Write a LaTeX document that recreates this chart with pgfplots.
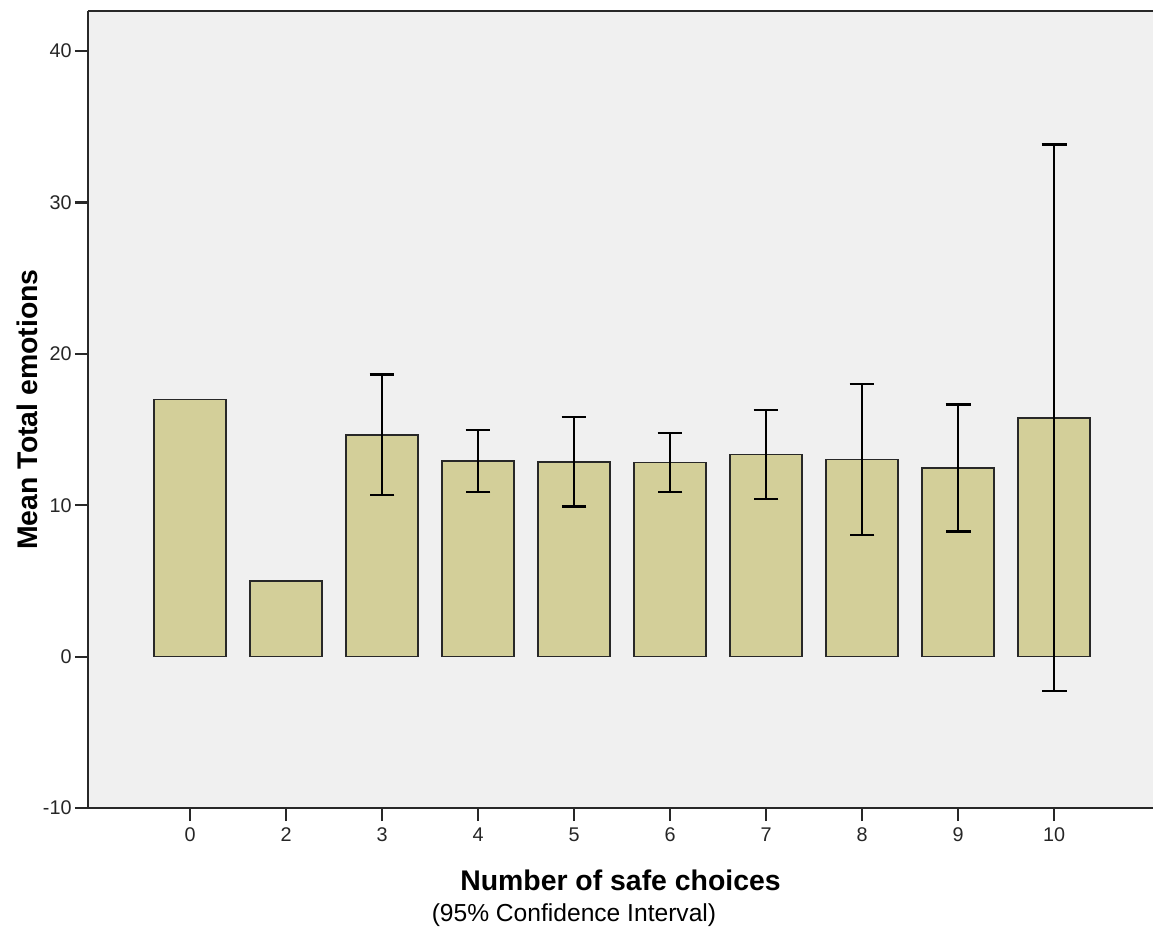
\documentclass[border=0pt]{standalone}
\usepackage{fontspec}
\setmainfont{Liberation Sans}
\usepackage{pgfplots}
\pgfplotsset{compat=1.18}
\definecolor{barfill}{RGB}{211,207,153}
\definecolor{plotbg}{RGB}{240,240,240}
\definecolor{edge}{RGB}{40,40,40}

\begin{document}
\begin{tikzpicture}
\begin{axis}[
    name=main,
    scale only axis,
    width=532.5pt, height=398.5pt,
    xmin=-1.0625, xmax=10.03,
    ymin=-10, ymax=42.65,
    axis x line*=box, axis y line*=left,
    axis line style={edge, line width=1.25pt},
    axis background/.style={fill=plotbg},
    clip=false,
    tick align=outside,
    major tick length=6.5pt,
    tick style={edge, line width=1.1pt},
    xtick pos=bottom, ytick pos=left,
    xtick={0,...,9},
    xticklabels={0,2,3,4,5,6,7,8,9,10},
    ytick={-10,0,10,20,30,40},
    /pgf/number format/assume math mode=true,
    ticklabel style={font=\fontsize{9.9}{12}\selectfont, text=black!85},
    yticklabel style={inner xsep=1.5pt},
    xlabel={Number of safe choices},
    ylabel={Mean Total emotions},
    xlabel style={font=\fontsize{14.2}{17}\selectfont\bfseries,
        at={(axis description cs:0.5,-0.0903)}, anchor=center},
    ylabel style={font=\fontsize{14.2}{17}\selectfont\bfseries,
        at={(axis description cs:-0.0573,0.5)}, anchor=center},
]
% bar means
\addplot[ybar, bar shift=0pt, bar width=36pt, fill=barfill, draw=edge, line width=0.75pt]
coordinates {
    (0,17.0) (1,5.0) (2,14.65) (3,12.92) (4,12.87)
    (5,12.83) (6,13.36) (7,13.01) (8,12.46) (9,15.77)
};
% 95% CI
\addplot[ybar, bar shift=0pt, bar width=36pt, draw=none, fill=none,
    error bars/.cd, y dir=both, y explicit,
    error bar style={draw=black, line width=1.2pt},
    error mark options={draw=black, rotate=90, mark size=6.2pt, line width=1.2pt}]
coordinates {
    (2,14.65) +- (0,3.98)
    (3,12.92) +- (0,2.04)
    (4,12.87) +- (0,2.94)
    (5,12.83) +- (0,1.95)
    (6,13.36) +- (0,2.94)
    (7,13.01) +- (0,4.98)
    (8,12.46) +- (0,4.19)
    (9,15.77) +- (0,18.06)
};
\node[font=\fontsize{12.3}{15}\selectfont, anchor=center]
    at (axis description cs:0.4563,-0.1343) {(95\% Confidence Interval)};
\end{axis}
\pgfresetboundingbox
\path (main.south west) ++(-44pt,-62pt) rectangle ++(576.5pt,466pt);
\end{tikzpicture}
\end{document}
